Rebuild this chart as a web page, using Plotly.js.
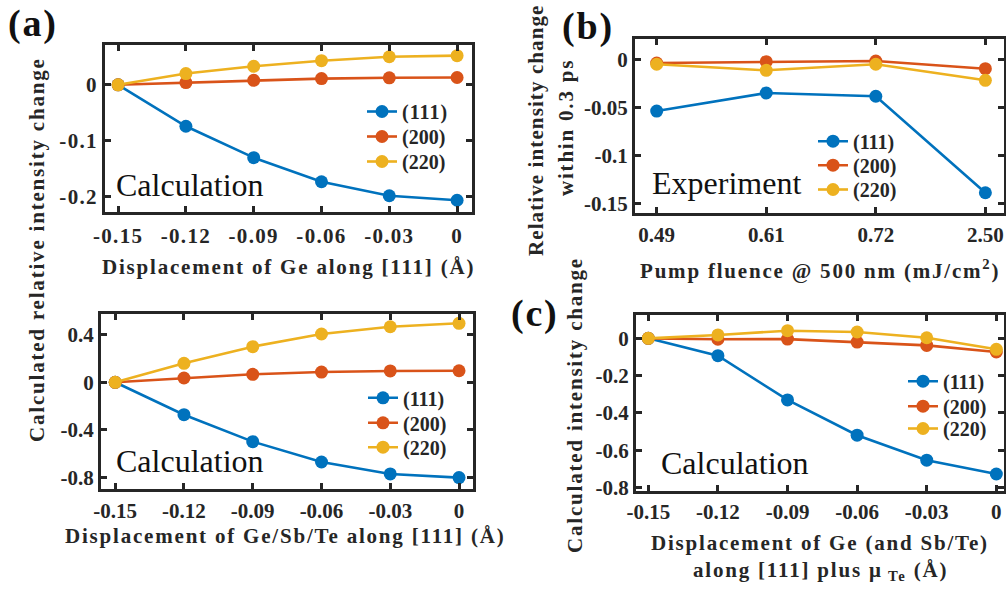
<!DOCTYPE html>
<html>
<head>
<meta charset="utf-8">
<script src="https://cdn.plot.ly/plotly-3.0.1.min.js"></script>
<style>
html,body{margin:0;padding:0;background:#fff;}
#chart{width:1006px;height:593px;}
.xtick text, .ytick text {letter-spacing:1.3px;}
.legendtext {letter-spacing:1px;}
.annotation-text {letter-spacing:1.8px;}
</style>
</head>
<body>
<div id="chart"></div>
<script>
// ---------- DATA ----------
const seriesNames = ['(111)', '(200)', '(220)'];
const seriesColors = ['#0072BD', '#D95319', '#EDB120'];

// Panel (a) top: displacement of Ge along [111]
const dispA = [-0.15, -0.12, -0.09, -0.06, -0.03, 0];
const aTop111 = [0, -0.074, -0.130, -0.173, -0.198, -0.206];
const aTop200 = [0, 0.004, 0.008, 0.011, 0.0125, 0.013];
const aTop220 = [0, 0.020, 0.033, 0.043, 0.050, 0.052];

// Panel (a) bottom: displacement of Ge/Sb/Te along [111]
const aBot111 = [0, -0.272, -0.498, -0.669, -0.769, -0.800];
const aBot200 = [0, 0.036, 0.067, 0.086, 0.095, 0.097];
const aBot220 = [0, 0.159, 0.299, 0.405, 0.466, 0.495];

// Panel (b): experiment vs pump fluence
const fluence = ['0.49', '0.61', '0.72', '2.50'];
const b111 = [-0.0539, -0.0351, -0.0385, -0.139];
const b200 = [-0.0039, -0.0025, -0.0018, -0.0098];
const b220 = [-0.0052, -0.0115, -0.0052, -0.0219];

// Panel (c): displacement of Ge (and Sb/Te) plus mu_Te
const c111 = [0, -0.093, -0.330, -0.519, -0.653, -0.727];
const c200 = [0, -0.005, -0.004, -0.020, -0.038, -0.073];
const c220 = [0, 0.018, 0.041, 0.034, 0.003, -0.059];

// Tick labels
const dispTickVals = [-0.15, -0.12, -0.09, -0.06, -0.03, 0];
const dispTickText = ['-0.15', '-0.12', '-0.09', '-0.06', '-0.03', '0'];
const aTopYVals = [0, -0.1, -0.2];
const aTopYText = ['0', '-0.1', '-0.2'];
const aBotYVals = [0.4, 0, -0.4, -0.8];
const aBotYText = ['0.4', '0', '-0.4', '-0.8'];
const bYVals = [0, -0.05, -0.1, -0.15];
const bYText = ['0', '-0.05', '-0.1', '-0.15'];
const cYVals = [0, -0.2, -0.4, -0.6, -0.8];
const cYText = ['0', '-0.2', '-0.4', '-0.6', '-0.8'];

// ---------- HELPERS ----------
const W = 1006, H = 593;
const px = v => v / W;
const py = v => 1 - v / H;
const FONT = 'Liberation Serif';
const INK = '#262626';

let legCount = 0;
const legendDefs = {};
function legName(n) { return n === 1 ? 'legend' : 'legend' + n; }

// rows: pixel centers of legend rows; lx: pixel left of legend
function mkTraces(x, ys, xa, ya, lx, rows) {
  return ys.map((y, i) => {
    legCount += 1;
    const name = legName(legCount);
    legendDefs[name] = {
      x: px(lx), y: py(rows[i] - 20), xanchor: 'left', yanchor: 'top',
      bgcolor: 'rgba(0,0,0,0)', borderwidth: 0, itemwidth: 30,
      font: {family: FONT, size: 20, weight: 'bold', color: INK}
    };
    return {
      x: x, y: y, xaxis: xa, yaxis: ya, legend: name,
      name: seriesNames[i], type: 'scatter', mode: 'lines+markers',
      line: {color: seriesColors[i], width: 2.6},
      marker: {color: seriesColors[i], size: 13, line: {width: 0}}
    };
  });
}

const data = [].concat(
  mkTraces(dispA, [aTop111, aTop200, aTop220], 'x', 'y', 362, [112, 137, 162]),
  mkTraces(dispA, [aBot111, aBot200, aBot220], 'x2', 'y2', 363, [398.3, 423.3, 447.7]),
  mkTraces(fluence, [b111, b200, b220], 'x3', 'y3', 813, [141.7, 165.7, 190]),
  mkTraces(dispA, [c111, c200, c220], 'x4', 'y4', 903, [381.7, 406.7, 429])
);

function ax(extra) {
  return Object.assign({
    showline: true, linecolor: INK, linewidth: 3, mirror: 'ticks',
    ticks: 'inside', ticklen: 6, tickwidth: 3, tickcolor: INK,
    showgrid: false, zeroline: false, fixedrange: true,
    tickfont: {family: FONT, size: 21, weight: 'bold', color: INK},
    tickmode: 'array'
  }, extra);
}

function ann(text, x, y, opts) {
  return Object.assign({
    text: text, xref: 'paper', yref: 'paper', x: px(x), y: py(y),
    xanchor: 'center', yanchor: 'middle', showarrow: false,
    font: {family: FONT, size: 21, weight: 'bold', color: INK}
  }, opts || {});
}
const spaced = (t, s) => '<span style="letter-spacing:' + s + 'px">' + t + '</span>';
const calcFont = {family: FONT, size: 32, color: '#111'};
const panelFont = {family: FONT, size: 38, weight: 'bold', color: '#111'};

const layout = Object.assign({
  width: W, height: H,
  margin: {l: 0, r: 0, t: 0, b: 0},
  paper_bgcolor: '#fff', plot_bgcolor: '#fff',
  showlegend: true,
  xaxis: ax({domain: [px(105), px(472)], anchor: 'y', range: [-0.1558, 0.0066], tickvals: dispTickVals, ticktext: dispTickText, ticklabelstandoff: 3}),
  yaxis: ax({domain: [py(212), py(45)], anchor: 'x', range: [-0.227, 0.071], tickvals: aTopYVals, ticktext: aTopYText}),
  xaxis2: ax({domain: [px(101), px(473)], anchor: 'y2', range: [-0.1562, 0.0061], tickvals: dispTickVals, ticktext: dispTickText}),
  yaxis2: ax({domain: [py(489.3), py(314)], anchor: 'x2', range: [-0.898, 0.573], tickvals: aBotYVals, ticktext: aBotYText}),
  xaxis3: ax({domain: [px(635), px(1004)], anchor: 'y3', type: 'category', range: [-0.198, 3.17], tickvals: fluence, ticktext: fluence}),
  yaxis3: ax({domain: [py(213.3), py(39.3)], anchor: 'x3', range: [-0.1604, 0.0208], tickvals: bYVals, ticktext: bYText}),
  xaxis4: ax({domain: [px(636), px(1004)], anchor: 'y4', range: [-0.1553, 0.0033], tickvals: dispTickVals, ticktext: dispTickText}),
  yaxis4: ax({domain: [py(491), py(315)], anchor: 'x4', range: [-0.818, 0.125], tickvals: cYVals, ticktext: cYText}),
  annotations: [
    // panel labels
    ann('(a)', 33, 24, {font: panelFont}),
    ann('(b)', 588, 26, {font: panelFont}),
    ann('(c)', 535, 313, {font: panelFont}),
    // x titles
    ann('Displacement of Ge along [111] (Å)', 288, 267),
    ann('Displacement of Ge/Sb/Te along [111] (Å)', 285, 536),
    ann('Pump fluence @ 500 nm (mJ/cm<sup>2</sup>)', 820, 269),
    ann('Displacement of Ge (and Sb/Te)', 820, 543),
    ann('along [111] plus μ<sub> Te</sub> (Å)', 820, 571),
    // y titles
    ann('Calculated relative intensity change', 37, 250, {textangle: -90}),
    ann(spaced('Relative intensity change', 1.1), 536, 131, {textangle: -90}),
    ann('within 0.3 ps', 566, 128, {textangle: -90}),
    ann('Calculated intensity change', 575, 405, {textangle: -90}),
    // in-plot labels
    ann(spaced('Calculation', 0), 114, 185, {xanchor: 'left', font: calcFont}),
    ann(spaced('Calculation', 0), 114, 461, {xanchor: 'left', font: calcFont}),
    ann(spaced('Experiment', 0), 650, 183, {xanchor: 'left', font: calcFont}),
    ann(spaced('Calculation', 0), 659, 463, {xanchor: 'left', font: calcFont})
  ]
}, legendDefs);

Plotly.newPlot('chart', data, layout, {staticPlot: true, displayModeBar: false});
</script>
</body>
</html>
